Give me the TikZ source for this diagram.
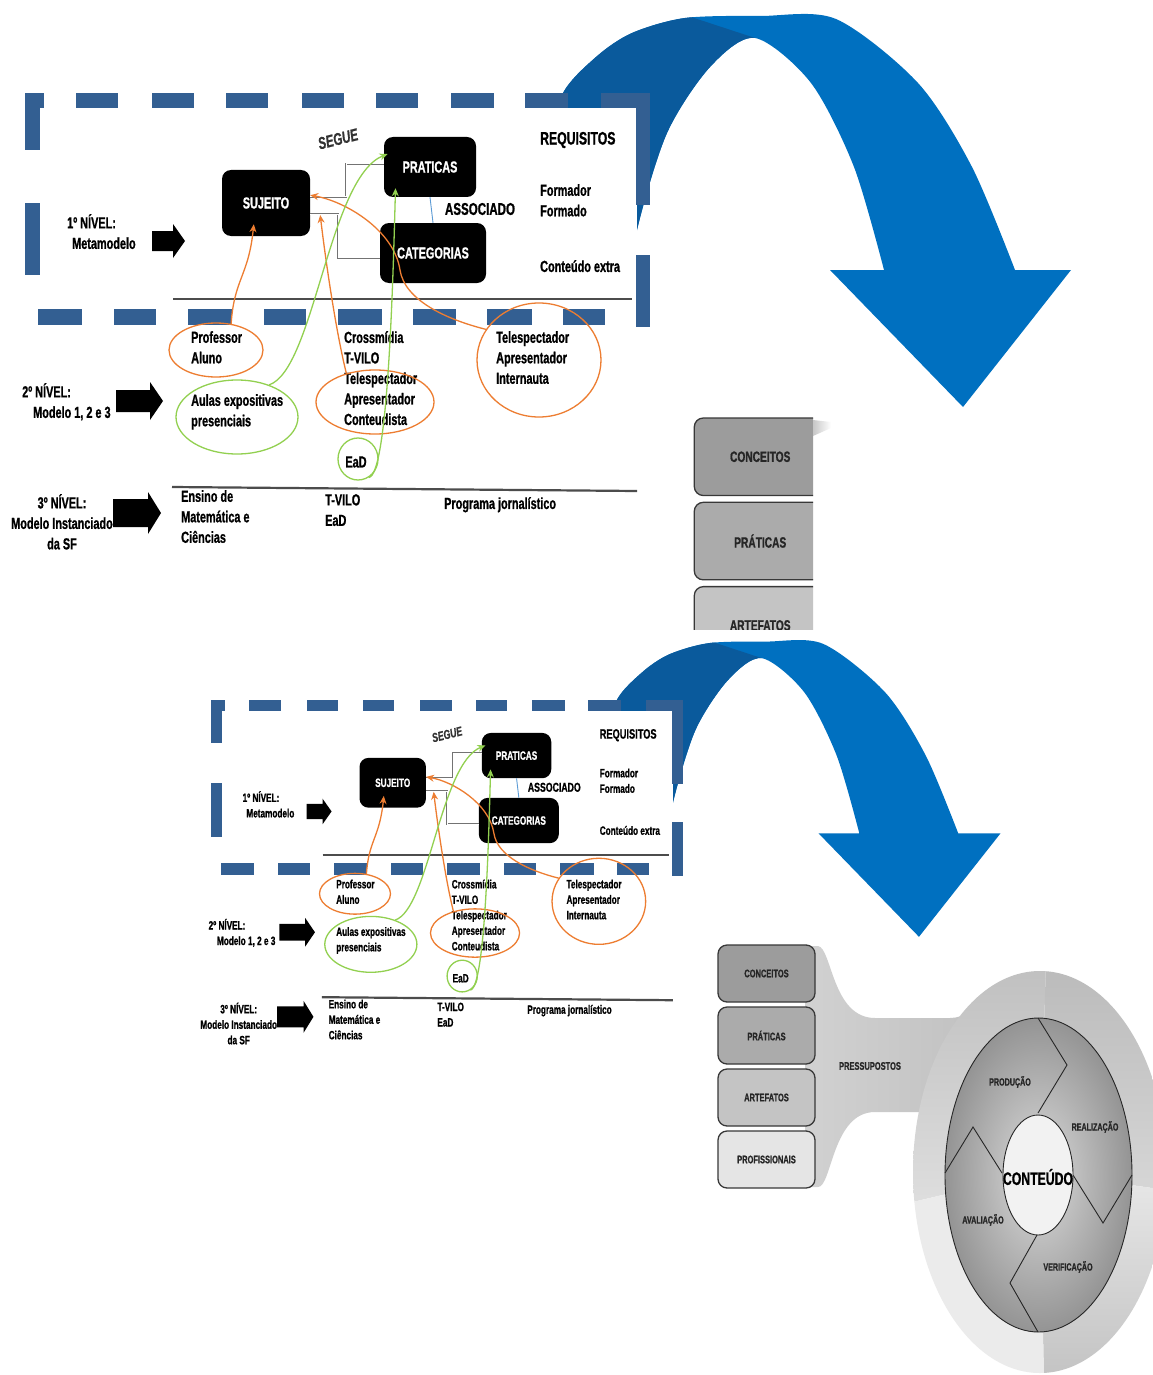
\documentclass[tikz,border=0pt]{standalone}
\usepackage{fontspec}
\setmainfont{Liberation Sans}[FakeStretch=0.68]
\newfontfamily\heavy{Liberation Sans Bold}[FakeStretch=0.68, FakeBold=0.9]
\newfontfamily\heavyit{Liberation Sans Bold Italic}[FakeStretch=0.68, FakeBold=0.9]
\usetikzlibrary{shapes.geometric,arrows.meta}

\definecolor{ribbon}{HTML}{0070C0}
\definecolor{ribbondark}{HTML}{0A5A9C}
\definecolor{dashblue}{HTML}{335F92}
\definecolor{orangeline}{HTML}{ED7D31}
\definecolor{greenline}{HTML}{92D050}
\definecolor{linkblue}{HTML}{5B9BD5}

% outline of the curved ribbon arrow
\newcommand{\ribbonpath}{plot[smooth] coordinates {(548,160) (562,95) (596,57) (632,33) (685,18) (760,16) (836,19) (918,83) (972,167) (1015,270)} -- (1071,270) -- (963,407) -- (830,270) -- plot[smooth] coordinates {(884,270) (854,167) (811,83) (755,38) (710,67) (667,133) (637,230) (628,300)} -- cycle}

\tikzset{
  lbl/.style={inner sep=0pt, font=\heavy\fontsize{16}{20.5}\selectfont, align=left},
  blackbox/.style={fill=black, rounded corners=9pt, text=white, inner sep=0pt,
    font=\heavy\fontsize{16}{19}\selectfont},
  oval/.style={ellipse, line width=1.3pt, inner sep=0pt},
  bracket/.style={draw=black!55, double=white, double distance=0.9pt, line width=0.7pt},
  divider/.style={draw=black!70, line width=2.2pt},
  orangelink/.style={draw=orangeline, line width=1.3pt, -{Stealth[length=8pt,width=7pt]}},
  greenlink/.style={draw=greenline, line width=1.3pt, -{Stealth[length=8pt,width=7pt]}},
  fwbox/.style={rounded corners=9pt, draw=black!78, line width=1.3pt, minimum width=97pt,
    minimum height=57pt, inner sep=0pt, text=black!85, font=\heavy\fontsize{11}{13}\selectfont},
  ringlbl/.style={inner sep=0pt, text=black!85, font=\heavy\fontsize{10.5}{12}\selectfont},
  % one stage: ribbon arrow plus the three-level model
  stage/.pic={
    \fill[ribbon] \ribbonpath;
    \begin{scope}
      \clip \ribbonpath;
      \fill[ribbondark] (480,-30) -- (670,-30) -- (688,16) -- (755,38) -- (755,430) -- (480,430) -- cycle;
    \end{scope}
    \fill[white] (15,108) rectangle (637,570);
    % dashed frame
    \foreach \xa/\ya/\xb/\yb in {25/93/40/150, 25/93/44/108, 76/93/118/108, 152/93/194/108,
        226/93/268/108, 302/93/344/108, 376/93/418/108, 451/93/494/108, 525/93/568/108,
        601/93/650/108, 636/93/650/205, 636/255/650/327, 25/203/40/275,
        38/309/82/325, 114/309/156/325, 188/309/232/325, 264/309/306/325,
        338/309/382/325, 413/309/456/325, 487/309/532/325, 563/309/605/325}
      \fill[dashblue] (\xa,\ya) rectangle (\xb,\yb);
    % level dividers
    \draw[divider] (173,299) -- (632,299);
    \draw[divider] (172,487) -- (637,491);
    % level arrows
    \fill (152,231) -- (173,231) -- (173,224) -- (185,241) -- (173,258) -- (173,251) -- (152,251) -- cycle;
    \fill (116,390) -- (150,390) -- (150,382) -- (163,401) -- (150,420) -- (150,412) -- (116,412) -- cycle;
    \fill (113,499) -- (148,499) -- (148,492) -- (161,513) -- (148,534) -- (148,527) -- (113,527) -- cycle;
    % level captions
    \node[lbl, anchor=north west] (-lv1) at (67,214) {1º NÍVEL:\\\hspace*{5pt}Metamodelo};
    \node[lbl, anchor=north west] (-lv2) at (22,383) {2º NÍVEL:\\\hspace*{11pt}Modelo 1, 2 e 3};
    \node[lbl, anchor=north, align=center] (-lv3) at (62,494) {3º NÍVEL:\\Modelo Instanciado\\da SF};
    % metamodel boxes
    \node[blackbox, minimum width=88pt, minimum height=66pt] (-suj) at (266,203) {SUJEITO};
    \node[blackbox, minimum width=92pt, minimum height=60pt] (-prat) at (430,167) {PRATICAS};
    \node[blackbox, minimum width=106pt, minimum height=60pt] (-cat) at (433,253) {CATEGORIAS};
    \draw[bracket] (-suj.8) -- ++(36,0) |- (-prat.176);
    \draw[bracket] (-suj.-14) -- ++(28,0) |- (-cat.185);
    \draw[linkblue, line width=0.9pt] (-prat.south) -- (-cat.north);
    \node[inner sep=0pt, rotate=14, text=black!80, font=\heavyit\fontsize{17}{19}\selectfont] (-segue) at (338,139) {SEGUE};
    \node[inner sep=0pt, font=\heavy\fontsize{17}{19}\selectfont] (-assoc) at (480,209) {ASSOCIADO};
    % requirements column
    \node[inner sep=0pt, anchor=west, font=\heavy\fontsize{18}{20}\selectfont] (-req) at (540,140) {REQUISITOS};
    \node[lbl, anchor=north west] (-form) at (540,184) {Formador\\Formado};
    \node[lbl, anchor=north west] (-cext) at (540,260) {Conteúdo extra};
    % level 2 contents
    \node[lbl, anchor=north west] (-prof) at (191,331) {Professor\\Aluno};
    \node[lbl, anchor=north west] (-aulas) at (191,394) {Aulas expositivas\\presenciais};
    \node[lbl, anchor=north west] (-cros) at (344,331) {Crossmídia\\T-VILO\\Telespectador\\Apresentador\\Conteudista};
    \node[lbl, anchor=north west] (-tele) at (496,331) {Telespectador\\Apresentador\\Internauta};
    \node[lbl] (-ead) at (356,462) {EaD};
    % level 3 contents
    \node[lbl, anchor=north west] (-ensino) at (181,490) {Ensino de\\Matemática e\\Ciências};
    \node[lbl, anchor=north west] (-tvilo) at (325,494) {T-VILO\\EaD};
    \node[lbl, anchor=north west] (-prog) at (444,497) {Programa jornalístico};
    % highlight ovals
    \node[oval, draw=orangeline, minimum width=94pt, minimum height=54pt] (-profE) at (216,350) {};
    \node[oval, draw=greenline, minimum width=122pt, minimum height=74pt] (-aulasE) at (237,417) {};
    \node[oval, draw=orangeline, minimum width=118pt, minimum height=64pt] (-crosE) at (375,402) {};
    \node[oval, draw=orangeline, minimum width=124pt, minimum height=114pt] (-teleE) at (539,360) {};
    \node[oval, draw=greenline, minimum width=40pt, minimum height=42pt] (-eadE) at (358,459) {};
    % links from the ovals to the metamodel
    \draw[orangelink, shorten >=-12pt] (-profE.60) .. controls +(3,-45) and +(-4,40) .. (-suj.-112);
    \draw[orangelink] (-crosE.135) .. controls +(-10,-40) and +(6,50) .. ([xshift=10pt,yshift=-12pt]-suj.east);
    \draw[orangelink] (-teleE.150) .. controls +(-40,-10) and +(4.5,30) .. (400,270)
      .. controls +(-6,-40) and +(35,6) .. (-suj.10);
    \draw[greenlink, shorten >=-4pt] (-aulasE.45) .. controls +(45,-15) and +(-55,22) .. (-prat.166);
    \draw[greenlink, shorten >=-9pt] (-eadE.-60) .. controls +(20,-2) and +(-2,70) .. (-prat.221);
  },
  % the first three presupposition boxes
  upperboxes/.pic={
    \node[fwbox, fill=black!39] (-conc) at (766.5,973.5) {CONCEITOS};
    \node[fwbox, fill=black!33] (-prat) at (766.5,1035.5) {PRÁTICAS};
    \node[fwbox, fill=black!23] (-arte) at (766.5,1097.5) {ARTEFATOS};
  },
  % production cycle with its presuppositions
  framework/.pic={
    \shade[left color=black!18, middle color=black!9, right color=black!25]
      (805,946) -- (818,946) .. controls (832,948) and (832,1018) .. (875,1018) -- (950,1018)
      .. controls (965,1018) and (975,1008) .. (990,998) -- (1000,1112) -- (875,1112)
      .. controls (832,1112) and (832,1187) .. (818,1187) -- (805,1187) -- cycle;
    \begin{scope}
      \clip (1040,1172) ellipse [x radius=127, y radius=201];
      \shade[top color=black!25, bottom color=black!13] (1040,1172) -- (900,1205) -- (900,960) -- (1046,960) -- cycle;
      \shade[top color=black!27, bottom color=black!16] (1040,1172) -- (1046,960) -- (1180,960) -- (1180,1192) -- cycle;
      \shade[top color=black!9, bottom color=black!24] (1040,1172) -- (1180,1192) -- (1180,1385) -- (1044,1385) -- cycle;
      \fill[black!8] (1040,1172) -- (1044,1385) -- (900,1385) -- (900,1205) -- cycle;
    \end{scope}
    \shadedraw[inner color=black!14, outer color=black!42, draw=black!85, line width=0.9pt]
      (1038.5,1175) ellipse [x radius=93.5, y radius=157];
    \draw[black!85, line width=0.9pt] (1038,1018) -- (1067,1065) -- (1038,1113);
    \draw[black!85, line width=0.9pt] (1073,1175) -- (1103,1223) -- (1132,1175);
    \draw[black!85, line width=0.9pt] (1037,1235) -- (1010,1283) -- (1038,1332);
    \draw[black!85, line width=0.9pt] (945,1173) -- (973,1127) -- (1002,1173);
    \node[ellipse, draw=black!85, line width=0.9pt, fill=black!5, minimum width=70pt,
      minimum height=120pt, inner sep=0pt] (-core) at (1038,1175) {};
    \node[inner sep=0pt, font=\heavy\fontsize{18}{20}\selectfont] (-corelbl) at (1038,1177) {CONTEÚDO};
    \node[ringlbl] (-prod) at (1010,1082) {PRODUÇÃO};
    \node[ringlbl] (-real) at (1095,1127) {REALIZAÇÃO};
    \node[ringlbl] (-verif) at (1068,1267) {VERIFICAÇÃO};
    \node[ringlbl] (-aval) at (983,1220) {AVALIAÇÃO};
    \node[ringlbl, font=\heavy\fontsize{11}{13}\selectfont] (-press) at (870,1066) {PRESSUPOSTOS};
    \node[fwbox, fill=black!10] (-prof) at (766.5,1159.5) {PROFISSIONAIS};
  }
}

\begin{document}
\begin{tikzpicture}[x=1pt, y=-1pt]
  \path[use as bounding box, fill=white] (0,0) rectangle (1152,1375);
  % first stage
  \pic (top) at (0,0) {stage};
  % second, smaller stage
  \begin{scope}[shift={(191.9,629.5)}, scale=0.755, transform shape]
    \pic (bot) at (0,0) {stage};
  \end{scope}
  % enlarged, cropped view of the presupposition boxes
  \begin{scope}
    \clip (692,414) rectangle (813,629);
    \begin{scope}[shift={(-282.2,-867.2)}, scale=1.36, transform shape]
      \pic (stack) at (0,0) {upperboxes};
    \end{scope}
  \end{scope}
  \shade[left color=black!22, right color=white] (813,420) -- (831,422) -- (831,428) -- (813,436) -- cycle;
  % full production cycle
  \pic (fw) at (0,0) {framework};
  \pic (fwb) at (0,0) {upperboxes};
\end{tikzpicture}
\end{document}
